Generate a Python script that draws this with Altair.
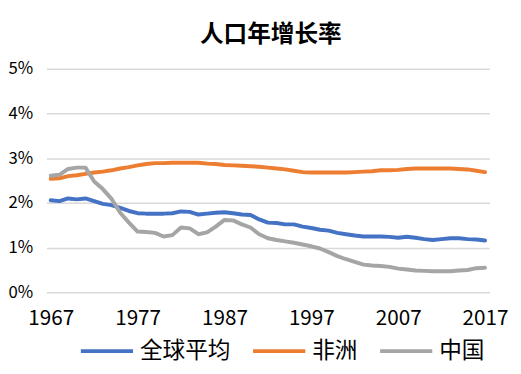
import altair as alt
import pandas as pd

years = list(range(1967, 2018))

world = [2.06, 2.04, 2.10, 2.08, 2.10, 2.04, 1.98, 1.95, 1.89, 1.82,
         1.77, 1.76, 1.76, 1.76, 1.77, 1.81, 1.80, 1.74, 1.76, 1.78,
         1.79, 1.77, 1.74, 1.73, 1.63, 1.56, 1.55, 1.52, 1.52, 1.47,
         1.44, 1.40, 1.38, 1.33, 1.30, 1.27, 1.25, 1.25, 1.25, 1.24,
         1.22, 1.245, 1.22, 1.19, 1.17, 1.19, 1.21, 1.21, 1.19, 1.18,
         1.16]

africa = [2.54, 2.55, 2.60, 2.62, 2.65, 2.68, 2.70, 2.73, 2.77, 2.80,
          2.84, 2.87, 2.89, 2.89, 2.90, 2.90, 2.90, 2.90, 2.88, 2.87,
          2.85, 2.84, 2.83, 2.82, 2.81, 2.79, 2.77, 2.75, 2.72, 2.69,
          2.68, 2.68, 2.68, 2.68, 2.68, 2.69, 2.70, 2.71, 2.73, 2.73,
          2.74, 2.76, 2.77, 2.77, 2.77, 2.77, 2.77, 2.76, 2.75, 2.72,
          2.69]

china = [2.61, 2.63, 2.76, 2.79, 2.79, 2.48, 2.31, 2.09, 1.78, 1.56,
         1.36, 1.35, 1.33, 1.25, 1.28, 1.45, 1.43, 1.30, 1.34, 1.47,
         1.62, 1.61, 1.52, 1.45, 1.30, 1.21, 1.17, 1.14, 1.11, 1.07,
         1.03, 0.98, 0.90, 0.81, 0.74, 0.68, 0.62, 0.60, 0.59, 0.57,
         0.53, 0.51, 0.49, 0.48, 0.47, 0.47, 0.47, 0.49, 0.50, 0.54,
         0.55]

series_names = ["全球平均", "非洲", "中国"]
series_colors = ["#4472C4", "#ED7D31", "#A5A5A5"]
x_ticks = [1967, 1977, 1987, 1997, 2007, 2017]
y_ticks = [0, 1, 2, 3, 4, 5]

rows = []
for name, vals in zip(series_names, [world, africa, china]):
    for y, v in zip(years, vals):
        rows.append({"year": y, "rate": v, "series": name})
df = pd.DataFrame(rows)

FONT = "Noto Sans CJK SC"

chart = alt.Chart(df).mark_line(
    strokeWidth=4, strokeJoin="round", strokeCap="round"
).encode(
    x=alt.X("year:Q",
            scale=alt.Scale(domain=[1966.5, 2017.5], nice=False, zero=False),
            axis=alt.Axis(values=x_ticks, format="d", grid=False, domain=False,
                          ticks=False, labelFontSize=21, labelPadding=16,
                          labelFont=FONT, labelColor="#000000", title=None)),
    y=alt.Y("rate:Q",
            scale=alt.Scale(domain=[0, 5], nice=False),
            axis=alt.Axis(values=y_ticks, labelExpr="datum.value + '%'",
                          grid=True, gridColor="#D9D9D9", gridWidth=1.5,
                          domain=False, ticks=False, labelFontSize=17,
                          labelFont=FONT, labelColor="#000000",
                          labelPadding=14, title=None)),
    color=alt.Color("series:N",
                    scale=alt.Scale(domain=series_names, range=series_colors),
                    sort=series_names,
                    legend=alt.Legend(title=None, orient="none", legendX=33,
                                      legendY=258, direction="horizontal",
                                      symbolType="stroke", symbolSize=2809,
                                      symbolStrokeWidth=4, labelFontSize=23,
                                      labelFont=FONT, labelColor="#000000",
                                      labelOffset=5, columnPadding=15)),
).properties(
    width=450,
    height=227,
    title=alt.TitleParams("人口年增长率", font=FONT, fontSize=24,
                          fontWeight="bold", color="#000000", offset=13,
                          anchor="middle", dx=3),
    autosize=alt.AutoSizeParams(type="none"),
    padding={"left": 39, "top": 59, "right": 24, "bottom": 70},
).configure_view(stroke=None)

chart.save("out.html", embed_options={"renderer": "svg", "actions": False})
